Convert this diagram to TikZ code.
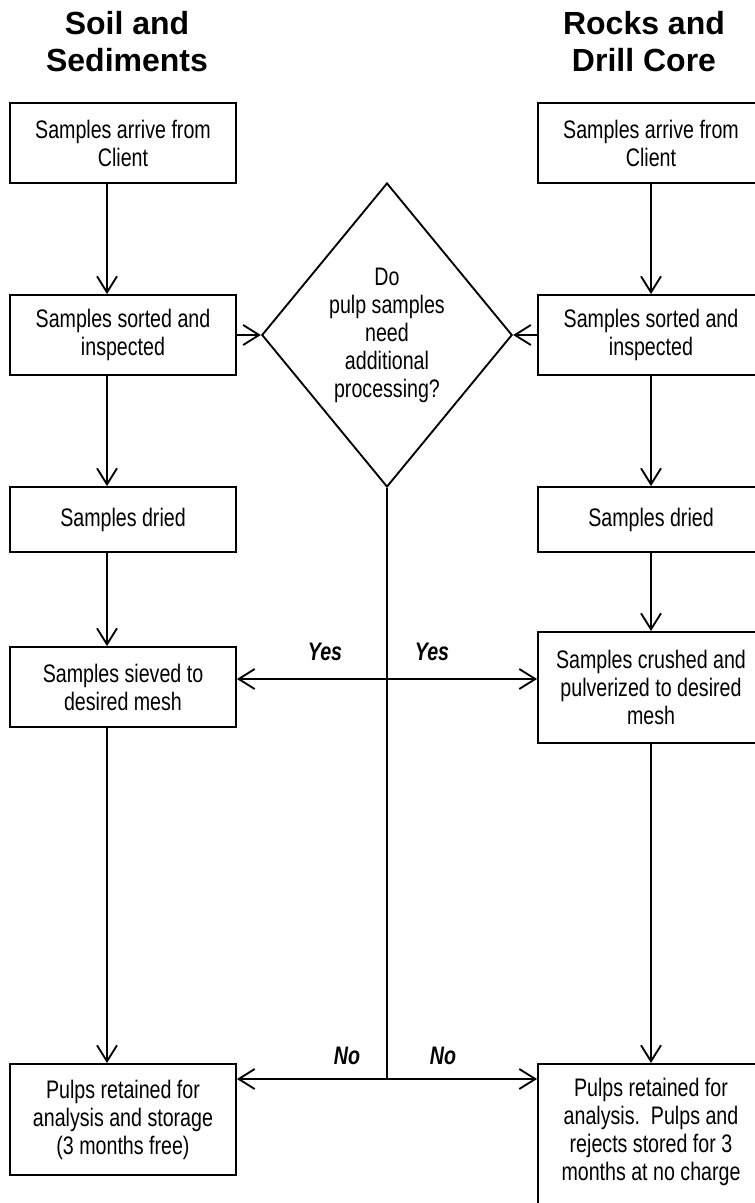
\documentclass[tikz,border=0pt]{standalone}
\usepackage{fontspec}
\setmainfont{Liberation Sans}[FakeStretch=0.775]
\newfontfamily\headfont{Liberation Sans}
\usepackage{tikz}
\usetikzlibrary{
  positioning,
  arrows.meta,
  shapes.geometric
}
\tikzstyle{box}=[draw, rectangle, line width=1.4pt, minimum width=169.5pt, text width=150pt, align=flush center, inner sep=0pt]
\tikzstyle{flow}=[line width=1.4pt, -{Straight Barb[length=12pt, width=15pt]}]
\tikzstyle{trunk}=[line width=1.4pt]
\tikzstyle{head}=[font=\headfont\bfseries\fontsize{24pt}{27.75pt}\selectfont, align=center, inner sep=0pt]
\tikzstyle{answer}=[font=\fontsize{19pt}{21pt}\selectfont\bfseries\itshape, inner sep=0pt]

\begin{document}
\begin{tikzpicture}[x=0.75pt, y=-0.75pt, font=\fontsize{19pt}{21pt}\selectfont]
    \def\lx{123};
    \def\rx{651};
    \def\off{-12pt};

    \clip (0,0) rectangle (755,1203);

    % 見出し
    \node[head] (soilhead) at (127,42) {Soil and\\Sediments};
    \node[head] (rockhead) at (644,42) {Rocks and\\Drill Core};

    % 土壌・堆積物の列
    \node[box, minimum height=60pt] (s1) at (\lx,143) {Samples arrive from\\Client};
    \node[box, minimum height=60pt] (s2) at (\lx,335) {Samples sorted and\\inspected};
    \node[box, minimum height=48.75pt] (s3) at (\lx,519.5) {Samples dried};
    \node[box, minimum height=60pt] (s4) at (\lx,687) {Samples sieved to\\desired mesh};
    \node[box, minimum height=83.25pt] (s5) at (\lx,1119.5) {Pulps retained for\\analysis and storage\\(3 months free)};

    % 岩石・コアの列
    \node[box, minimum height=60pt] (r1) at (\rx,143) {Samples arrive from\\Client};
    \node[box, minimum height=60pt] (r2) at (\rx,335) {Samples sorted and\\inspected};
    \node[box, minimum height=48.75pt] (r3) at (\rx,519.5) {Samples dried};
    \node[box, minimum height=83.25pt] (r4) at (\rx,687.5) {Samples crushed and\\pulverized to desired\\mesh};
    \node[box, anchor=north, text height=24.75pt, text depth=100pt] (r5) at (\rx,1063) {Pulps retained for\\analysis.\ \ Pulps and\\rejects stored for 3\\months at no charge};

    % 判断
    \node[draw, diamond, line width=1.4pt, minimum width=180pt, minimum height=228pt, inner sep=0pt, align=center] (ask) at (387,335) {Do\\pulp samples\\need\\additional\\processing?};

    % 縦の流れ
    \foreach \a/\b in {s1/s2, s2/s3, s3/s4, s4/s5}
      \draw[flow] ([xshift=\off]\a.south) -- ([xshift=\off]\b.north);
    \foreach \a/\b in {r1/r2, r2/r3, r3/r4, r4/r5}
      \draw[flow] (\a.south) -- (\b.north);

    % 判断への矢印
    \draw[flow] (s2.east) -- (ask.west);
    \draw[flow] (r2.west) -- (ask.east);

    % 分岐
    \coordinate (yesfork) at (387,679);
    \coordinate (nofork) at (387,1079);
    \draw[trunk] (ask.south) -- (nofork);
    \draw[flow] (yesfork) -- (yesfork -| s4.east);
    \draw[flow] (yesfork) -- (yesfork -| r4.west);
    \draw[flow] (nofork) -- (nofork -| s5.east);
    \draw[flow] (nofork) -- (nofork -| r5.west);

    % ラベル
    \node[answer] (yesleft) at (325,652) {Yes};
    \node[answer] (yesright) at (432,652) {Yes};
    \node[answer] (noleft) at (347,1056) {No};
    \node[answer] (noright) at (443,1056) {No};
\end{tikzpicture}
\end{document}
